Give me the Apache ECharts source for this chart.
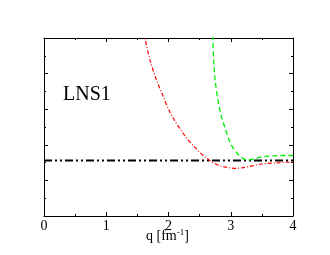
<!DOCTYPE html>
<html><head><meta charset="utf-8">
<script src="https://cdn.jsdelivr.net/npm/echarts@6/dist/echarts.min.js"></script>
<style>html,body{margin:0;padding:0;background:#fff}#c{width:330px;height:255px}</style>
</head><body><div id="c"></div>
<script>
const xTicks = [0, 1, 2, 3, 4];
const redQ = [1.60, 1.62, 1.70, 1.80, 1.90, 2.00, 2.10, 2.20, 2.30, 2.40, 2.50, 2.60, 2.70, 2.80, 2.90, 3.00, 3.10, 3.20, 3.30, 3.40, 3.50, 3.60, 3.70, 3.80, 3.90, 4.00];
const redV = [5.15, 5.00, 4.40, 3.85, 3.42, 3.00, 2.68, 2.41, 2.17, 1.97, 1.79, 1.64, 1.52, 1.43, 1.38, 1.35, 1.34, 1.36, 1.39, 1.43, 1.46, 1.48, 1.49, 1.50, 1.51, 1.51];
const greenQ = [2.70, 2.71, 2.73, 2.75, 2.80, 2.85, 2.90, 2.95, 3.00, 3.05, 3.10, 3.15, 3.20, 3.25, 3.30, 3.40, 3.50, 3.60, 3.70, 3.80, 4.00];
const greenV = [5.30, 5.00, 4.25, 3.80, 3.20, 2.80, 2.52, 2.25, 2.03, 1.88, 1.77, 1.68, 1.61, 1.58, 1.58, 1.62, 1.66, 1.68, 1.69, 1.70, 1.70];
const blackQ = [0, 4];
const blackV = [1.56, 1.56];
const zip = (a, b) => a.map((x, i) => [x, b[i]]);
const serif = 'Liberation Serif';
const frameAxis = (extra) => Object.assign({
  type: 'value',
  axisLine: {show: true, onZero: false, lineStyle: {color: '#000', width: 1}},
  axisTick: {show: true, inside: true, length: 4, lineStyle: {color: '#000'}},
  minorTick: {show: true, splitNumber: 2, length: 2, lineStyle: {color: '#000'}},
  axisLabel: {show: false}, splitLine: {show: false}
}, extra);
const chart = echarts.init(document.getElementById('c'));
chart.setOption({
  animation: false,
  grid: {left: 44, right: 37, top: 38, bottom: 39},
  xAxis: [
    frameAxis({min: 0, max: 4, interval: 1, position: 'bottom',
      axisLabel: {show: true, color: '#000', fontFamily: serif, fontSize: 14, margin: 3,
        formatter: v => xTicks.includes(v) ? String(v) : ''}}),
    frameAxis({min: 0, max: 4, interval: 1, position: 'top'})
  ],
  yAxis: [
    frameAxis({min: 0, max: 5, interval: 1, position: 'left'}),
    frameAxis({min: 0, max: 5, interval: 1, position: 'right'})
  ],
  series: [{
    type: 'line', data: zip(blackQ, blackV), symbol: 'none', clip: true,
    lineStyle: {color: '#000', width: 2, type: [8, 3, 2, 3, 2, 3]}
  }, {
    type: 'line', data: zip(redQ, redV), symbol: 'none', smooth: 0.3, clip: true,
    lineStyle: {color: '#ff0000', width: 1.2, type: [4, 2, 1, 2]}
  }, {
    type: 'line', data: zip(greenQ, greenV), symbol: 'none', smooth: 0.3, clip: true,
    lineStyle: {color: '#00ee00', width: 1.3, type: [5, 3]}
  }],
  graphic: [{
    type: 'text', left: 63, top: 85,
    style: {text: 'LNS1', font: '20px "Liberation Serif"', fill: '#000'}
  }, {
    type: 'text', left: 146, top: 228,
    style: {
      text: '{n|q [fm}{s|-1}{n|]}',
      rich: {
        n: {fontFamily: serif, fontSize: 14, fill: '#000', verticalAlign: 'bottom'},
        s: {fontFamily: serif, fontSize: 9, fill: '#000', verticalAlign: 'top', padding: [0, 0, 6, 0]}
      }
    }
  }]
});
</script></body></html>
